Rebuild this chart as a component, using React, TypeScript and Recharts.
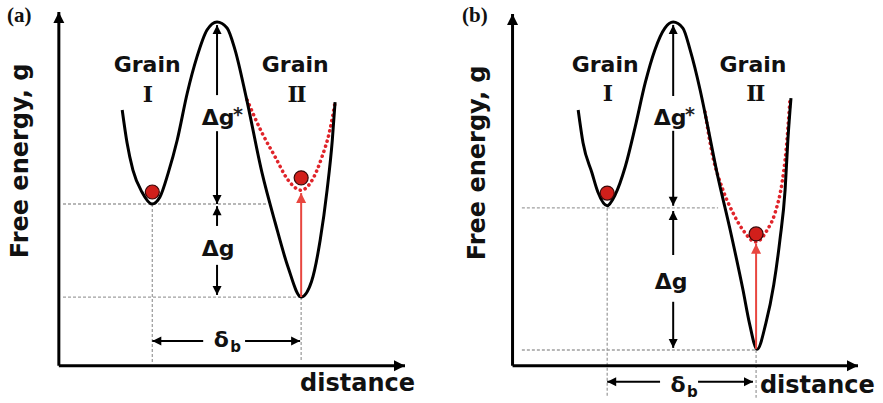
import React from 'react';
import { ComposedChart, Line, Scatter, XAxis, YAxis, ReferenceLine } from 'recharts';

type P = { x: number; y: number };
type Seg = { from: P; to: P };
type Lab = { x: number; y: number; text: string; kind: string; extra?: string };

// ---------------- Panel (a) ----------------
const curveA: P[] = [
  { x: 1.83, y: 7.23 }, { x: 1.97, y: 6.3 }, { x: 2.14, y: 5.53 }, { x: 2.4, y: 4.91 },
  { x: 2.69, y: 4.57 }, { x: 2.92, y: 4.77 }, { x: 3.16, y: 5.45 }, { x: 3.42, y: 6.38 },
  { x: 3.71, y: 7.71 }, { x: 3.99, y: 8.73 }, { x: 4.28, y: 9.49 }, { x: 4.57, y: 9.72 },
  { x: 4.86, y: 9.55 }, { x: 5.09, y: 8.93 }, { x: 5.41, y: 7.6 }, { x: 5.87, y: 5.45 },
  { x: 6.25, y: 4.04 }, { x: 6.62, y: 2.79 }, { x: 7.0, y: 1.94 }, { x: 7.3, y: 2.38 },
  { x: 7.55, y: 3.55 }, { x: 7.75, y: 4.97 }, { x: 7.9, y: 6.38 }, { x: 7.98, y: 7.45 },
];
const strainedA: P[] = [
  { x: 5.44, y: 7.51 }, { x: 5.87, y: 6.58 }, { x: 6.25, y: 5.9 }, { x: 6.62, y: 5.25 },
  { x: 7.0, y: 4.96 }, { x: 7.32, y: 5.25 }, { x: 7.6, y: 5.9 }, { x: 7.83, y: 6.66 },
  { x: 7.98, y: 7.45 },
];
const atomsA: P[] = [{ x: 2.7, y: 4.91 }, { x: 7.0, y: 5.31 }];
const guidesA: Seg[] = [
  { from: { x: 0.12, y: 4.57 }, to: { x: 5.99, y: 4.57 } },
  { from: { x: 0.12, y: 1.94 }, to: { x: 7.0, y: 1.94 } },
  { from: { x: 2.7, y: 4.57 }, to: { x: 2.7, y: 0.1 } },
  { from: { x: 7.0, y: 1.94 }, to: { x: 7.0, y: 0.1 } },
];
const axesA: Seg[] = [
  { from: { x: 0, y: 0 }, to: { x: 0, y: 10 } },
  { from: { x: 0, y: 0 }, to: { x: 10, y: 0 } },
];
const dimArrowsA: Seg[] = [
  { from: { x: 4.57, y: 7.65 }, to: { x: 4.57, y: 9.63 } },
  { from: { x: 4.57, y: 6.63 }, to: { x: 4.57, y: 4.57 } },
  { from: { x: 4.57, y: 3.95 }, to: { x: 4.57, y: 4.51 } },
  { from: { x: 4.57, y: 2.85 }, to: { x: 4.57, y: 2.0 } },
  { from: { x: 4.17, y: 0.7 }, to: { x: 2.7, y: 0.7 } },
  { from: { x: 5.38, y: 0.7 }, to: { x: 6.97, y: 0.7 } },
];
const liftArrowsA: Seg[] = [{ from: { x: 7.0, y: 1.94 }, to: { x: 7.0, y: 4.88 } }];
const labelsA: Lab[] = [
  { x: -1.5, y: 9.72, text: '(a)', kind: 'tag' },
  { x: -0.89, y: 5.79, text: 'Free energy, g', kind: 'ylabel' },
  { x: 2.55, y: 8.3, text: 'Grain', kind: 'grain' },
  { x: 2.55, y: 7.46, text: 'I', kind: 'numeral' },
  { x: 6.83, y: 8.3, text: 'Grain', kind: 'grain' },
  { x: 6.86, y: 7.46, text: 'II', kind: 'numeral' },
  { x: 4.6, y: 6.8, text: 'Δg', kind: 'dg', extra: '*' },
  { x: 4.6, y: 3.1, text: 'Δg', kind: 'dg' },
  { x: 4.69, y: 0.53, text: 'δ', kind: 'delta', extra: 'b' },
  { x: 6.97, y: -0.72, text: 'distance', kind: 'axis' },
];

// ---------------- Panel (b) ----------------
const curveB: P[] = [
  { x: 1.9, y: 7.27 }, { x: 2.04, y: 6.34 }, { x: 2.3, y: 5.48 }, { x: 2.47, y: 4.94 },
  { x: 2.74, y: 4.55 }, { x: 2.97, y: 4.86 }, { x: 3.26, y: 5.65 }, { x: 3.55, y: 6.79 },
  { x: 3.84, y: 8.04 }, { x: 4.12, y: 8.98 }, { x: 4.41, y: 9.6 }, { x: 4.65, y: 9.77 },
  { x: 4.93, y: 9.6 }, { x: 5.14, y: 8.98 }, { x: 5.43, y: 7.84 }, { x: 5.63, y: 6.9 },
  { x: 5.92, y: 5.48 }, { x: 6.3, y: 3.86 }, { x: 6.67, y: 2.16 }, { x: 6.86, y: 1.2 },
  { x: 7.08, y: 0.47 }, { x: 7.33, y: 1.2 }, { x: 7.56, y: 2.3 }, { x: 7.74, y: 3.58 },
  { x: 7.89, y: 5.0 }, { x: 7.97, y: 6.42 }, { x: 8.06, y: 7.61 },
];
const strainedB: P[] = [
  { x: 5.57, y: 7.22 }, { x: 5.8, y: 5.94 }, { x: 6.09, y: 5.0 }, { x: 6.38, y: 4.35 },
  { x: 6.67, y: 3.86 }, { x: 7.04, y: 3.52 }, { x: 7.37, y: 3.86 }, { x: 7.6, y: 4.35 },
  { x: 7.8, y: 5.2 }, { x: 7.92, y: 6.14 }, { x: 8.03, y: 7.56 },
];
const atomsB: P[] = [{ x: 2.74, y: 4.91 }, { x: 7.05, y: 3.75 }];
const guidesB: Seg[] = [
  { from: { x: 0.27, y: 4.49 }, to: { x: 5.95, y: 4.49 } },
  { from: { x: 0.27, y: 0.45 }, to: { x: 7.05, y: 0.45 } },
  { from: { x: 2.74, y: 4.49 }, to: { x: 2.74, y: -0.91 } },
  { from: { x: 7.05, y: 0.45 }, to: { x: 7.05, y: -0.91 } },
];
const axesB: Seg[] = [
  { from: { x: 0, y: 0 }, to: { x: 0, y: 10 } },
  { from: { x: 0, y: 0 }, to: { x: 10, y: 0 } },
];
const dimArrowsB: Seg[] = [
  { from: { x: 4.65, y: 7.67 }, to: { x: 4.65, y: 9.69 } },
  { from: { x: 4.65, y: 6.68 }, to: { x: 4.65, y: 4.55 } },
  { from: { x: 4.65, y: 3.15 }, to: { x: 4.65, y: 4.4 } },
  { from: { x: 4.65, y: 1.82 }, to: { x: 4.65, y: 0.51 } },
  { from: { x: 4.27, y: -0.45 }, to: { x: 2.74, y: -0.45 } },
  { from: { x: 5.37, y: -0.45 }, to: { x: 6.96, y: -0.45 } },
];
const liftArrowsB: Seg[] = [{ from: { x: 7.05, y: 0.48 }, to: { x: 7.05, y: 3.47 } }];
const labelsB: Lab[] = [
  { x: -1.46, y: 9.77, text: '(b)', kind: 'tag' },
  { x: -0.8, y: 5.77, text: 'Free energy, g', kind: 'ylabel' },
  { x: 2.68, y: 8.35, text: 'Grain', kind: 'grain' },
  { x: 2.74, y: 7.54, text: 'I', kind: 'numeral' },
  { x: 6.96, y: 8.35, text: 'Grain', kind: 'grain' },
  { x: 7.02, y: 7.54, text: 'II', kind: 'numeral' },
  { x: 4.56, y: 6.84, text: 'Δg', kind: 'dg', extra: '*' },
  { x: 4.59, y: 2.19, text: 'Δg', kind: 'dg' },
  { x: 4.79, y: -0.75, text: 'δ', kind: 'delta', extra: 'b' },
  { x: 7.16, y: -0.77, text: 'distance', kind: 'axis' },
];

// ---------------- styles ----------------
const SANS = '"DejaVu Sans", Verdana, sans-serif';
const SERIF = '"Liberation Serif", "Times New Roman", serif';
const SLAB = '"DejaVu Serif", "Liberation Serif", serif';
const RED_DOT = '#e0242a';
const RED_ARROW = '#e8463f';
const GUIDE = '#a0a0a0';

const headFor = (segs: Seg[]) =>
  segs.map((s) => ({
    x: s.to.x,
    y: s.to.y,
    dir: s.to.x === s.from.x ? (s.to.y > s.from.y ? 'up' : 'down') : s.to.x > s.from.x ? 'right' : 'left',
  }));

const makeHead = (len: number, half: number, color: string) => (p: any) => {
  const { cx, cy } = p;
  const d = p.payload.dir;
  let pts = '';
  if (d === 'up') pts = `${cx},${cy} ${cx - half},${cy + len} ${cx + half},${cy + len}`;
  else if (d === 'down') pts = `${cx},${cy} ${cx - half},${cy - len} ${cx + half},${cy - len}`;
  else if (d === 'right') pts = `${cx},${cy} ${cx - len},${cy - half} ${cx - len},${cy + half}`;
  else pts = `${cx},${cy} ${cx + len},${cy - half} ${cx + len},${cy + half}`;
  return <polygon points={pts} fill={color} stroke="none" />;
};

const renderAtom = (p: any) => (
  <circle cx={p.cx} cy={p.cy} r={7} fill="#d11f1b" stroke="#3a0808" strokeWidth={1.2} />
);

const renderLabel = (p: any) => {
  const { cx, cy } = p;
  const { text, kind, extra } = p.payload as Lab;
  const base = { fill: '#111', fontWeight: 700 as const };
  switch (kind) {
    case 'tag':
      return <text x={cx} y={cy} {...base} fontFamily={SERIF} fontSize={21} textAnchor="start">{text}</text>;
    case 'ylabel':
      return (
        <text x={cx} y={cy} {...base} fontFamily={SANS} fontSize={24} textAnchor="middle" transform={`rotate(-90 ${cx} ${cy})`}>
          {text}
        </text>
      );
    case 'grain':
      return <text x={cx} y={cy} {...base} fontFamily={SANS} fontSize={22} textAnchor="middle">{text}</text>;
    case 'numeral':
      return <text x={cx} y={cy} {...base} fontFamily={SLAB} fontSize={22} textAnchor="middle" letterSpacing={-1.5}>{text}</text>;
    case 'dg':
      return (
        <g>
          <text x={cx} y={cy} {...base} fontFamily={SANS} fontSize={22} textAnchor="middle">{text}</text>
          {extra ? (
            <text x={cx + 15} y={cy - 4} fill="#222" fontWeight={700} fontFamily={SANS} fontSize={19} textAnchor="start">{extra}</text>
          ) : null}
        </g>
      );
    case 'delta':
      return (
        <g>
          <text x={cx} y={cy} {...base} fontFamily={SANS} fontSize={22} textAnchor="middle">{text}</text>
          <text x={cx + 9} y={cy + 5} {...base} fontFamily={SANS} fontSize={15} textAnchor="start">{extra}</text>
        </g>
      );
    case 'axis':
      return <text x={cx} y={cy} {...base} fontFamily={SANS} fontSize={24} textAnchor="start">{text}</text>;
    default:
      return <g />;
  }
};

type PanelProps = {
  width: number;
  height: number;
  margin: { top: number; right: number; bottom: number; left: number };
  xDomain: [number, number];
  curve: P[];
  strained: P[];
  atoms: P[];
  guides: Seg[];
  axes: Seg[];
  dims: Seg[];
  lifts: Seg[];
  labels: Lab[];
};

function Panel(props: PanelProps) {
  const { width, height, margin, xDomain, curve, strained, atoms, guides, axes, dims, lifts, labels } = props;
  return (
    <ComposedChart width={width} height={height} margin={margin}>
      <XAxis type="number" dataKey="x" domain={xDomain} hide />
      <YAxis type="number" dataKey="y" domain={[-1, 10]} hide />
      {guides.map((s, i) => (
        <ReferenceLine key={'g' + i} segment={[s.from, s.to]} stroke={GUIDE} strokeWidth={1.3} strokeDasharray="3 2" ifOverflow="visible" />
      ))}
      {axes.map((s, i) => (
        <ReferenceLine key={'a' + i} segment={[s.from, s.to]} stroke="#000" strokeWidth={3} ifOverflow="visible" />
      ))}
      {dims.map((s, i) => (
        <ReferenceLine key={'d' + i} segment={[s.from, s.to]} stroke="#000" strokeWidth={2} ifOverflow="visible" />
      ))}
      <Line data={strained} dataKey="y" type="monotone" stroke={RED_DOT} strokeWidth={3.6} strokeDasharray="0.1 5.2" strokeLinecap="round" dot={false} activeDot={false} isAnimationActive={false} />
      <Line data={curve} dataKey="y" type="monotone" stroke="#000" strokeWidth={3} dot={false} activeDot={false} isAnimationActive={false} />
      {lifts.map((s, i) => (
        <ReferenceLine key={'l' + i} segment={[s.from, s.to]} stroke={RED_ARROW} strokeWidth={2} ifOverflow="visible" />
      ))}
      <Scatter data={headFor(axes)} shape={makeHead(11, 5.5, '#000')} isAnimationActive={false} />
      <Scatter data={headFor(dims)} shape={makeHead(9, 4.5, '#000')} isAnimationActive={false} />
      <Scatter data={headFor(lifts)} shape={makeHead(10, 5, RED_ARROW)} isAnimationActive={false} />
      <Scatter data={atoms} shape={renderAtom} isAnimationActive={false} />
      <Scatter data={labels} shape={renderLabel} isAnimationActive={false} />
    </ComposedChart>
  );
}

export default function App() {
  return (
    <div style={{ position: 'absolute', left: 0, top: 0, width: 883, height: 403, overflow: 'hidden', background: '#fff', display: 'flex' }}>
      <Panel
        width={440}
        height={403}
        margin={{ top: 12, right: 35, bottom: 2, left: 0 }}
        xDomain={[-1.7, 10]}
        curve={curveA}
        strained={strainedA}
        atoms={atomsA}
        guides={guidesA}
        axes={axesA}
        dims={dimArrowsA}
        lifts={liftArrowsA}
        labels={labelsA}
      />
      <Panel
        width={443}
        height={403}
        margin={{ top: 14, right: 25, bottom: 2, left: 0 }}
        xDomain={[-2.1, 10]}
        curve={curveB}
        strained={strainedB}
        atoms={atomsB}
        guides={guidesB}
        axes={axesB}
        dims={dimArrowsB}
        lifts={liftArrowsB}
        labels={labelsB}
      />
    </div>
  );
}
